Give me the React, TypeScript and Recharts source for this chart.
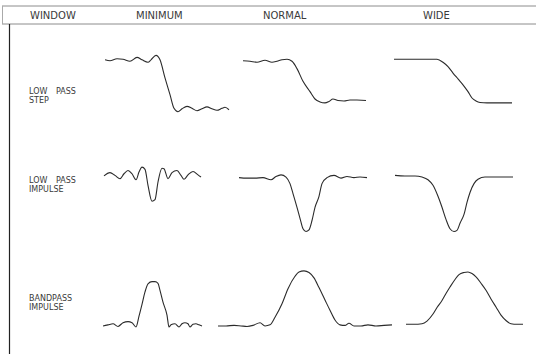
import { LineChart, Line, XAxis, YAxis } from 'recharts'

// column / row headings of the table
const columns = ['WINDOW', 'MINIMUM', 'NORMAL', 'WIDE']
const columnX = [30, 136, 263, 423]
const rowLabels = [
  ['LOW PASS', 'STEP'],
  ['LOW PASS', 'IMPULSE'],
  ['BANDPASS', 'IMPULSE'],
]

// traces: [time, amplitude]; time in samples from the start of the trace,
// amplitude normalised per row (step: 0 low / 1 high, impulse: 0 base / -1 dip)
const stepMinimum: [number, number][] = [
  [0, 1.0], [5, 0.98], [12, 1.02], [18, 1.01], [25, 0.97], [32, 1.05], [37, 1.0],
  [43, 0.95], [46, 1.0], [51, 1.09], [55, 1.0], [60, 0.63], [65, 0.29], [69, 0.01],
  [73, -0.06], [77, 0.0], [82, 0.05], [87, 0.01], [92, -0.04], [97, 0.0], [102, 0.04],
  [107, 0.0], [112, -0.03], [117, 0.01], [120, 0.03], [124, -0.02],
]
const stepNormal: [number, number][] = [
  [0, 0.98], [7, 0.97], [14, 0.95], [22, 0.99], [29, 0.95], [34, 0.97], [39, 1.0],
  [44, 1.01], [49, 0.97], [54, 0.82], [60, 0.56], [67, 0.35], [72, 0.2], [77, 0.14],
  [82, 0.12], [86, 0.15], [90, 0.2], [95, 0.17], [101, 0.16], [107, 0.18], [114, 0.18],
  [123, 0.17],
]
const stepWide: [number, number][] = [
  [0, 1.01], [16, 1.01], [31, 1.01], [43, 1.01], [49, 0.95], [54, 0.86], [59, 0.73],
  [64, 0.61], [69, 0.49], [74, 0.35], [78, 0.22], [82, 0.16], [86, 0.13], [93, 0.12],
  [106, 0.12], [118, 0.12],
]
const impulseMinimum: [number, number][] = [
  [0, 0.01], [6, 0.07], [11, 0.02], [16, -0.04], [20, 0.05], [24, 0.11], [28, 0.05],
  [32, -0.06], [35, 0.08], [38, 0.17], [41, 0.13], [44, -0.16], [48, -0.45], [51, -0.42],
  [54, -0.1], [58, 0.15], [60, 0.14], [64, -0.04], [68, 0.07], [73, 0.11], [77, 0.02],
  [80, -0.05], [84, 0.03], [89, 0.09], [94, 0.03], [97, -0.01],
]
const impulseNormal: [number, number][] = [
  [0, -0.02], [8, -0.03], [16, -0.03], [24, -0.02], [32, -0.06], [37, 0.0], [42, 0.03],
  [47, -0.01], [51, -0.13], [54, -0.31], [58, -0.56], [61, -0.76], [64, -0.95], [67, -1.0],
  [70, -0.97], [73, -0.8], [76, -0.56], [80, -0.36], [83, -0.13], [88, -0.02], [95, 0.02],
  [102, -0.03], [108, 0.0], [115, -0.02], [121, -0.01], [128, -0.02],
]
const impulseWide: [number, number][] = [
  [0, 0.02], [10, 0.01], [20, 0.01], [27, -0.01], [33, -0.06], [38, -0.16], [43, -0.36],
  [47, -0.56], [51, -0.78], [55, -0.95], [59, -1.0], [62, -0.98], [65, -0.85], [69, -0.69],
  [72, -0.47], [75, -0.29], [79, -0.13], [83, -0.05], [90, -0.01], [100, -0.01],
  [110, -0.01], [118, -0.01],
]
const bandMinimum: [number, number][] = [
  [0, -0.01], [5, 0.01], [10, 0.03], [15, -0.02], [20, 0.05], [25, 0.07], [29, 0.05],
  [33, -0.03], [36, 0.17], [39, 0.39], [42, 0.62], [45, 0.77], [49, 0.81], [52, 0.81],
  [55, 0.78], [57, 0.65], [60, 0.43], [64, 0.19], [66, -0.03], [68, 0.01], [72, 0.03],
  [76, -0.03], [79, 0.03], [82, 0.05], [85, 0.03], [87, -0.03], [90, 0.02], [93, 0.03],
  [96, 0.01], [99, -0.01],
]
const bandNormal: [number, number][] = [
  [0, -0.01], [8, -0.01], [16, 0.0], [23, -0.01], [29, -0.02], [35, 0.0], [42, 0.05],
  [47, -0.01], [52, 0.01], [57, 0.15], [64, 0.4], [70, 0.68], [77, 0.91], [81, 0.99],
  [86, 1.01], [91, 0.98], [96, 0.88], [101, 0.7], [107, 0.47], [112, 0.28], [117, 0.1],
  [122, 0.01], [127, 0.0], [131, 0.04], [136, -0.01], [143, -0.01], [150, 0.01],
  [158, -0.01], [166, 0.0], [174, 0.01],
]
const bandWide: [number, number][] = [
  [0, 0.02], [8, 0.02], [16, 0.03], [21, 0.08], [27, 0.21], [31, 0.33], [36, 0.46],
  [40, 0.59], [44, 0.71], [49, 0.85], [53, 0.94], [58, 0.98], [62, 0.99], [66, 0.96],
  [70, 0.9], [75, 0.78], [80, 0.65], [85, 0.49], [90, 0.34], [95, 0.19], [100, 0.09],
  [105, 0.03], [111, 0.02], [117, 0.02],
]

const rows = [
  { zeroY: 109, scale: 49, domain: [-0.2, 1.2], labelY: 91, traces: [stepMinimum, stepNormal, stepWide], lefts: [105, 243, 394] },
  { zeroY: 176, scale: 55, domain: [-1.1, 0.3], labelY: 180, traces: [impulseMinimum, impulseNormal, impulseWide], lefts: [104, 239, 395] },
  { zeroY: 325, scale: 54, domain: [-0.2, 1.1], labelY: 298, traces: [bandMinimum, bandNormal, bandWide], lefts: [103, 218, 406] },
]

const ink = '#2b2b2b'
const font = '"DejaVu Sans", sans-serif'

function Trace({ points, left, top, height, domain }: any) {
  const data = points.map(([t, v]: [number, number]) => ({ t, v }))
  const span = points[points.length - 1][0]
  return (
    <div style={{ position: 'absolute', left: left - 2, top, width: span + 4, height }}>
      <LineChart width={span + 4} height={height} data={data} margin={{ top: 0, right: 2, bottom: 0, left: 2 }}>
        <XAxis type="number" dataKey="t" domain={[0, span]} hide />
        <YAxis type="number" domain={domain} hide allowDataOverflow />
        <Line type="monotone" dataKey="v" stroke={ink} strokeWidth={1.1} dot={false} isAnimationActive={false} />
      </LineChart>
    </div>
  )
}

export default function App() {
  return (
    <div style={{ position: 'absolute', left: 0, top: 0, width: 536, height: 354, background: '#fff', overflow: 'hidden' }}>
      <svg width={536} height={354} style={{ position: 'absolute', left: 0, top: 0 }}>
        <line x1={2} y1={6} x2={536} y2={6} stroke="#8c8c8c" strokeWidth={1} />
        <line x1={2} y1={24} x2={536} y2={24} stroke="#8c8c8c" strokeWidth={1} />
        <line x1={2.5} y1={6} x2={2.5} y2={24} stroke="#aaa" strokeWidth={1} />
        <line x1={9.5} y1={24} x2={9.5} y2={354} stroke="#222" strokeWidth={1.2} />
        {columns.map((c, i) => (
          <text key={c} x={columnX[i]} y={19} fontFamily={font} fontSize={10} fill="#3a3a3a">{c}</text>
        ))}
        {rows.map((r, i) => (
          <g key={i}>
            <text x={29} y={r.labelY + 3} fontFamily={font} fontSize={8} fill="#3a3a3a" wordSpacing={6}>{rowLabels[i][0]}</text>
            <text x={29} y={r.labelY + 12} fontFamily={font} fontSize={8} fill="#3a3a3a">{rowLabels[i][1]}</text>
          </g>
        ))}
      </svg>
      {rows.map((r, i) =>
        r.traces.map((pts, j) => (
          <Trace
            key={i + '-' + j}
            points={pts}
            left={r.lefts[j]}
            top={r.zeroY - r.domain[1] * r.scale}
            height={(r.domain[1] - r.domain[0]) * r.scale}
            domain={r.domain}
          />
        ))
      )}
    </div>
  )
}
